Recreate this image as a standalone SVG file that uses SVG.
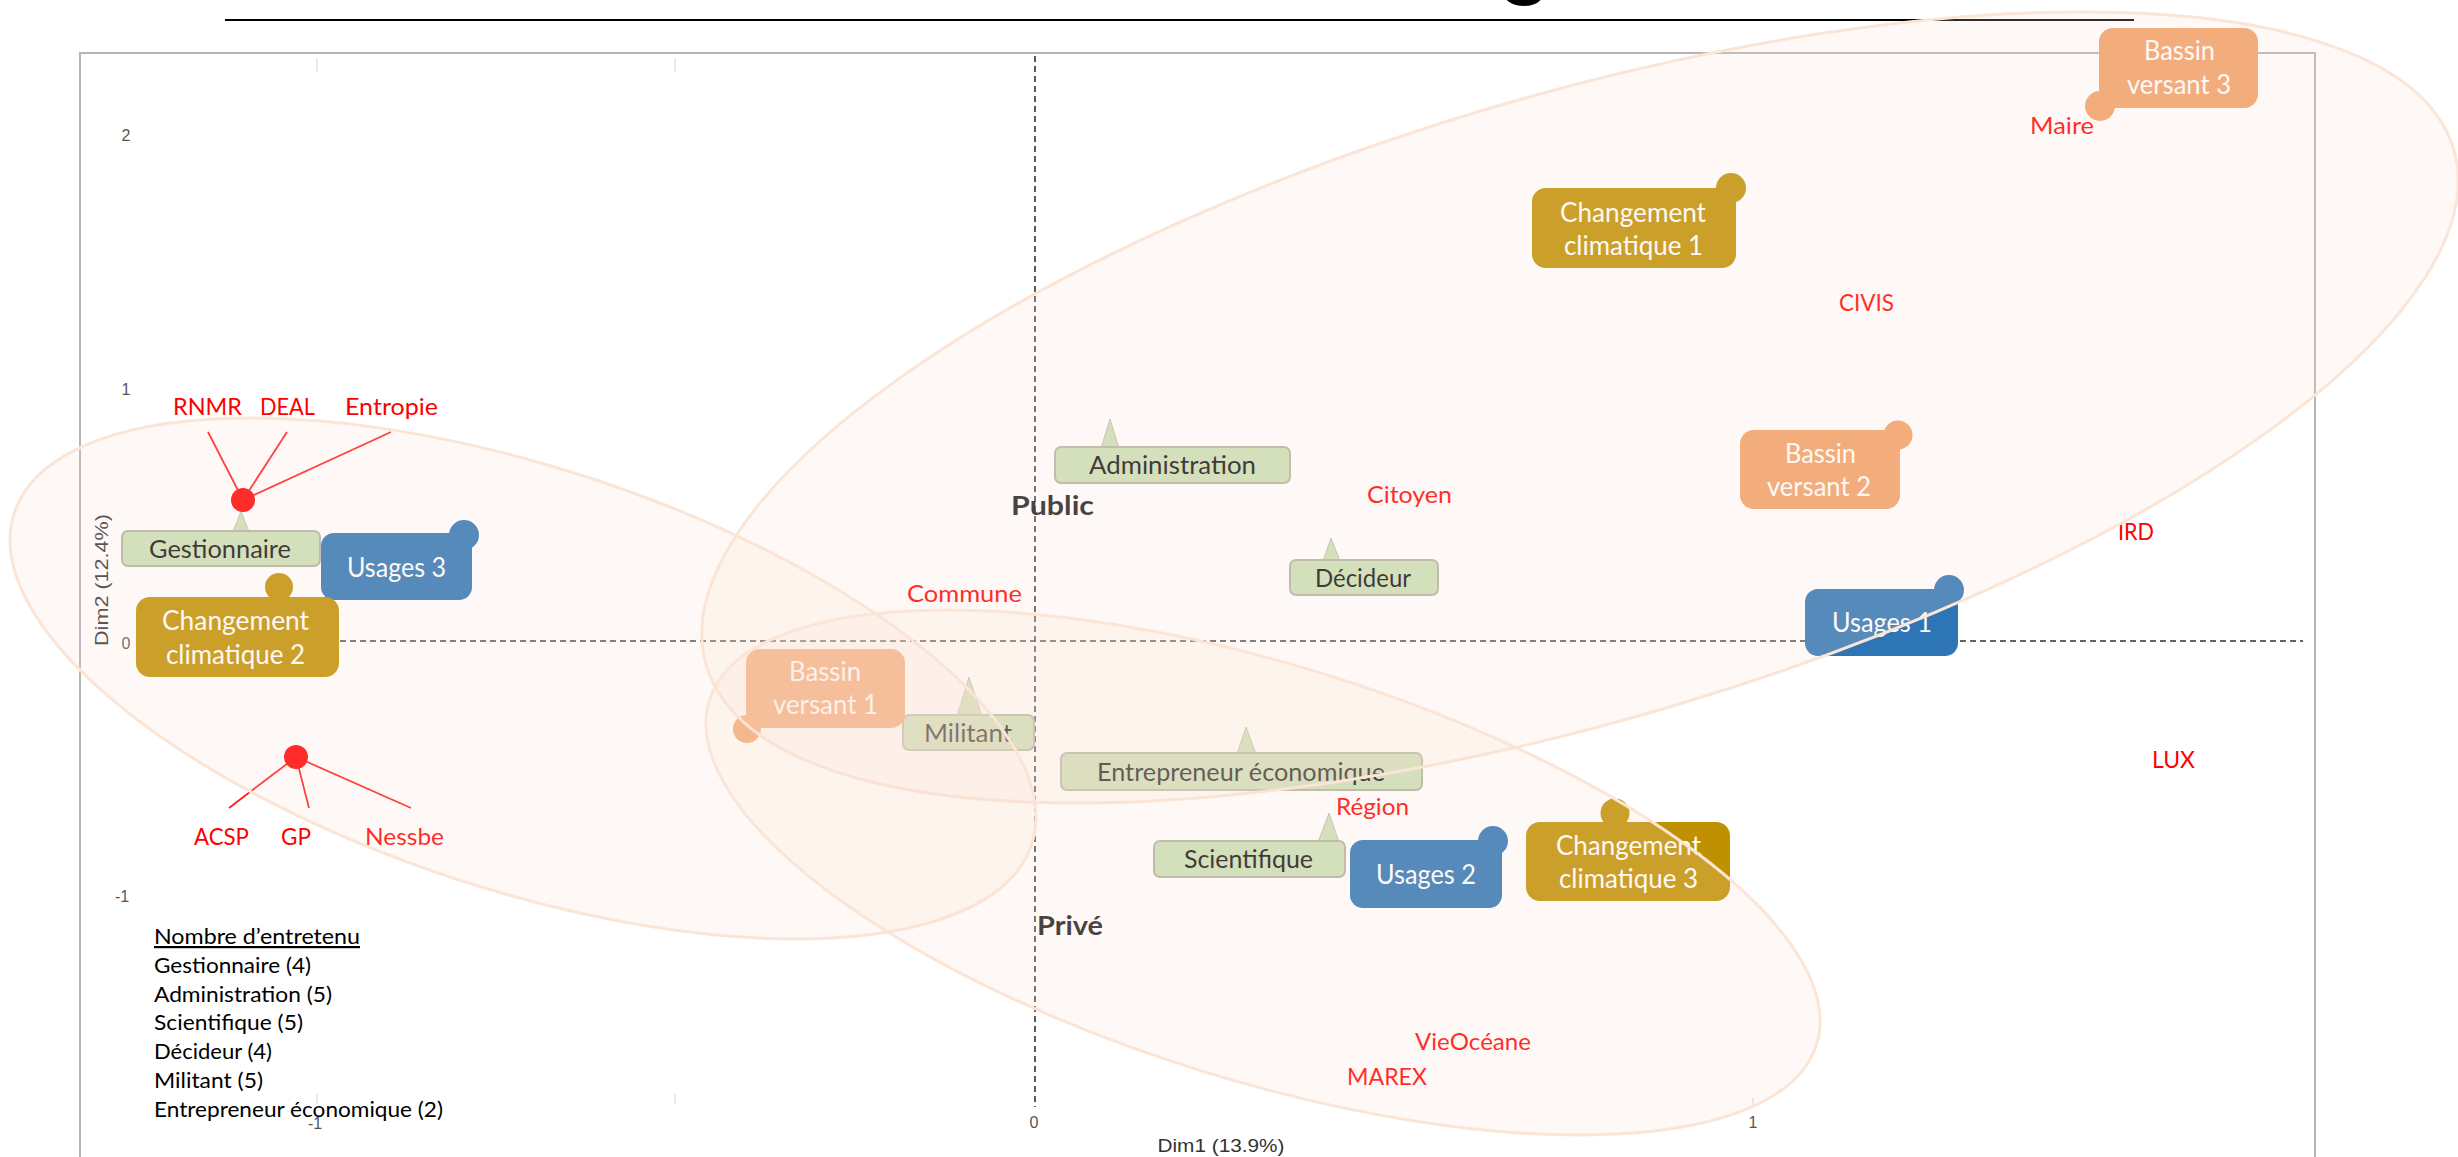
<svg xmlns="http://www.w3.org/2000/svg" width="2458" height="1157" viewBox="0 0 2458 1157">
<style>
text{font-family:"Lato","Open Sans","Liberation Sans",sans-serif}
.w{fill:#fff;font-size:26px;text-anchor:start}
.r{fill:#ff0000;font-size:24px}
.g{fill:#111;font-size:25px}
.l{fill:#000;font-size:22px}
.t{fill:#555;font-size:16px;font-family:"Liberation Sans",sans-serif;text-anchor:middle}
.d{fill:#333;font-size:18px;font-family:"Liberation Sans",sans-serif;text-anchor:middle}
.b{fill:#1c1c1c;font-size:27px;font-weight:bold}
.lab{fill:#cbdfb6;stroke:#b3b3a3;stroke-width:2}
.tri{fill:#cbdfb6;stroke:#b3b3a3;stroke-width:.8}
.gold{fill:#bf9000}.blue{fill:#2e75b6}.or{fill:#f2a068}
.ax{stroke:#333;stroke-width:1.6;stroke-dasharray:6 4;fill:none}
.tk{stroke:#e4e4e4;stroke-width:1.5}
.rl{stroke:#ff1c1c;stroke-width:1.8}
.el{fill:#fbe0d2;fill-opacity:.2;stroke:#fbe5d6;stroke-width:3}
</style>
<rect width="2458" height="1157" fill="#fff"/>
<text x="1497" y="-15" style="font-family:'Liberation Sans',sans-serif;font-size:100px" fill="#000">g</text>
<line x1="225" y1="20" x2="2134" y2="20" stroke="#000" stroke-width="2"/>
<path d="M80 1157V53H2315V1157" fill="none" stroke="#b5b5b5" stroke-width="2"/>
<g id="ticks">
<path class="tk" d="M317 58V72M675 58V72M317 1094V1104M675 1094V1104M1753 1098V1107"/>
<text class="t" x="126" y="141">2</text>
<text class="t" x="126" y="395">1</text>
<text class="t" x="126" y="649">0</text>
<text class="t" x="122" y="902">-1</text>
<text class="t" x="315" y="1129">-1</text>
<text class="t" x="1034" y="1128">0</text>
<text class="t" x="1753" y="1128">1</text>
<text class="d" x="1221" y="1152" textLength="127" lengthAdjust="spacingAndGlyphs">Dim1 (13.9%)</text>
<text class="d" transform="translate(108 580) rotate(-90)" textLength="132" lengthAdjust="spacingAndGlyphs">Dim2 (12.4%)</text>
</g>
<g id="connectors">
<path class="ax" d="M1035 56V1107M340 641H2303"/>
<path class="rl" d="M243 500L208 432M243 500L287 432M243 500L391 432M296 757L229 808M296 757L309 808M296 757L411 808"/>
</g>
<g id="gestionnaire"><path class="tri" d="M241 511L233 532H249Z"/><rect class="lab" x="122" y="531" width="198" height="35" rx="6"/><text class="g" x="149" y="558" textLength="142" lengthAdjust="spacingAndGlyphs">Gestionnaire</text></g>
<g id="administration"><path class="tri" d="M1110 419L1101 448H1119Z"/><rect class="lab" x="1055" y="447" width="235" height="36" rx="6"/><text class="g" x="1089" y="474" textLength="167" lengthAdjust="spacingAndGlyphs">Administration</text></g>
<g id="decideur"><path class="tri" d="M1331 538L1323 561H1340Z"/><rect class="lab" x="1290" y="560" width="148" height="35" rx="6"/><text class="g" x="1315" y="587" textLength="96" lengthAdjust="spacingAndGlyphs">Décideur</text></g>
<g id="militant"><path class="tri" d="M969 677L957 716H982Z"/><rect class="lab" x="903" y="715" width="131" height="35" rx="6"/><text class="g" x="924" y="742" textLength="88" lengthAdjust="spacingAndGlyphs">Militant</text></g>
<g id="entrepreneur"><path class="tri" d="M1246 727L1237 754H1256Z"/><rect class="lab" x="1061" y="753" width="361" height="37" rx="6"/><text class="g" x="1097" y="781" textLength="288" lengthAdjust="spacingAndGlyphs">Entrepreneur économique</text></g>
<g id="scientifique"><path class="tri" d="M1329 813L1318 842H1339Z"/><rect class="lab" x="1154" y="841" width="191" height="36" rx="6"/><text class="g" x="1184" y="868" textLength="129" lengthAdjust="spacingAndGlyphs">Scientifique</text></g>
<g id="usages3"><circle class="blue" cx="464" cy="535" r="15"/><rect class="blue" x="321" y="533" width="151" height="67" rx="13"/><text class="w" x="347" y="577" textLength="99" lengthAdjust="spacingAndGlyphs">Usages 3</text></g>
<g id="usages1"><circle class="blue" cx="1949" cy="590" r="15"/><rect class="blue" x="1805" y="589" width="153" height="67" rx="13"/><text class="w" x="1832" y="632" textLength="100" lengthAdjust="spacingAndGlyphs">Usages 1</text></g>
<g id="usages2"><circle class="blue" cx="1493" cy="841" r="15"/><rect class="blue" x="1350" y="840" width="152" height="68" rx="13"/><text class="w" x="1376" y="884" textLength="100" lengthAdjust="spacingAndGlyphs">Usages 2</text></g>
<g id="changement1"><circle class="gold" cx="1731" cy="188" r="15"/><rect class="gold" x="1532" y="188" width="204" height="80" rx="14"/><text class="w" x="1560" y="222" textLength="146" lengthAdjust="spacingAndGlyphs">Changement</text><text class="w" x="1564" y="255" textLength="139" lengthAdjust="spacingAndGlyphs">climatique 1</text></g>
<g id="changement2"><circle class="gold" cx="279" cy="587" r="14"/><rect class="gold" x="136" y="597" width="203" height="80" rx="14"/><text class="w" x="162" y="630" textLength="147" lengthAdjust="spacingAndGlyphs">Changement</text><text class="w" x="166" y="664" textLength="139" lengthAdjust="spacingAndGlyphs">climatique 2</text></g>
<g id="changement3"><circle class="gold" cx="1615" cy="813" r="14.5"/><rect class="gold" x="1526" y="822" width="204" height="79" rx="14"/><text class="w" x="1556" y="855" textLength="145" lengthAdjust="spacingAndGlyphs">Changement</text><text class="w" x="1559" y="888" textLength="139" lengthAdjust="spacingAndGlyphs">climatique 3</text></g>
<g id="bassin1"><circle class="or" cx="747" cy="729" r="14"/><rect class="or" x="746" y="649" width="159" height="79" rx="14"/><text class="w" x="789" y="681" textLength="72" lengthAdjust="spacingAndGlyphs">Bassin</text><text class="w" x="773" y="714" textLength="105" lengthAdjust="spacingAndGlyphs">versant 1</text></g>
<g id="bassin2"><circle class="or" cx="1898" cy="435" r="14.5"/><rect class="or" x="1740" y="430" width="160" height="79" rx="14"/><text class="w" x="1785" y="463" textLength="71" lengthAdjust="spacingAndGlyphs">Bassin</text><text class="w" x="1767" y="496" textLength="104" lengthAdjust="spacingAndGlyphs">versant 2</text></g>
<g id="bassin3"><circle class="or" cx="2100" cy="106" r="15"/><rect class="or" x="2099" y="28" width="159" height="80" rx="14"/><text class="w" x="2144" y="60" textLength="71" lengthAdjust="spacingAndGlyphs">Bassin</text><text class="w" x="2127" y="94" textLength="104" lengthAdjust="spacingAndGlyphs">versant 3</text></g>
<g id="actors">
<circle cx="243" cy="500" r="12" fill="#ff0000"/><circle cx="296" cy="757" r="12" fill="#ff0000"/>
<text class="r" x="173" y="415" textLength="69" lengthAdjust="spacingAndGlyphs">RNMR</text>
<text class="r" x="260" y="415" textLength="55" lengthAdjust="spacingAndGlyphs">DEAL</text>
<text class="r" x="345" y="415" textLength="93" lengthAdjust="spacingAndGlyphs">Entropie</text>
<text class="r" x="194" y="845" textLength="55" lengthAdjust="spacingAndGlyphs">ACSP</text>
<text class="r" x="281" y="845" textLength="30" lengthAdjust="spacingAndGlyphs">GP</text>
<text class="r" x="365" y="845" textLength="79" lengthAdjust="spacingAndGlyphs">Nessbe</text>
<text class="r" x="907" y="602" textLength="115" lengthAdjust="spacingAndGlyphs">Commune</text>
<text class="r" x="1367" y="503" textLength="85" lengthAdjust="spacingAndGlyphs">Citoyen</text>
<text class="r" x="1839" y="311" textLength="55" lengthAdjust="spacingAndGlyphs">CIVIS</text>
<text class="r" x="2030" y="134" textLength="64" lengthAdjust="spacingAndGlyphs">Maire</text>
<text class="r" x="2118" y="540" textLength="36" lengthAdjust="spacingAndGlyphs">IRD</text>
<text class="r" x="2152" y="768" textLength="43" lengthAdjust="spacingAndGlyphs">LUX</text>
<text class="r" x="1336" y="815" textLength="73" lengthAdjust="spacingAndGlyphs">Région</text>
<text class="r" x="1415" y="1050" textLength="116" lengthAdjust="spacingAndGlyphs">VieOcéane</text>
<text class="r" x="1347" y="1085" textLength="80" lengthAdjust="spacingAndGlyphs">MAREX</text>
</g>
<g id="poles">
<text class="b" x="1011" y="515" textLength="83" lengthAdjust="spacingAndGlyphs">Public</text>
<text class="b" x="1037" y="935" textLength="66" lengthAdjust="spacingAndGlyphs">Privé</text>
</g>
<g id="ellipses">
<ellipse class="el" cx="0" cy="0" rx="911" ry="312.5" transform="translate(1580 407.5) rotate(-16.46)"/>
<ellipse class="el" cx="0" cy="0" rx="535" ry="211.4" transform="translate(523 678.5) rotate(18.03)"/>
<ellipse class="el" cx="0" cy="0" rx="579.7" ry="207.7" transform="translate(1263 872.5) rotate(17.25)"/>
</g>
<g id="legend">
<text class="l" x="154" y="944" text-decoration="underline" textLength="206" lengthAdjust="spacingAndGlyphs">Nombre d’entretenu</text>
<text class="l" x="154" y="973" textLength="157" lengthAdjust="spacingAndGlyphs">Gestionnaire (4)</text>
<text class="l" x="154" y="1002" textLength="178" lengthAdjust="spacingAndGlyphs">Administration (5)</text>
<text class="l" x="154" y="1030" textLength="149" lengthAdjust="spacingAndGlyphs">Scientifique (5)</text>
<text class="l" x="154" y="1059" textLength="118" lengthAdjust="spacingAndGlyphs">Décideur (4)</text>
<text class="l" x="154" y="1088" textLength="109" lengthAdjust="spacingAndGlyphs">Militant (5)</text>
<text class="l" x="154" y="1117" textLength="289" lengthAdjust="spacingAndGlyphs">Entrepreneur économique (2)</text>
</g>
</svg>
